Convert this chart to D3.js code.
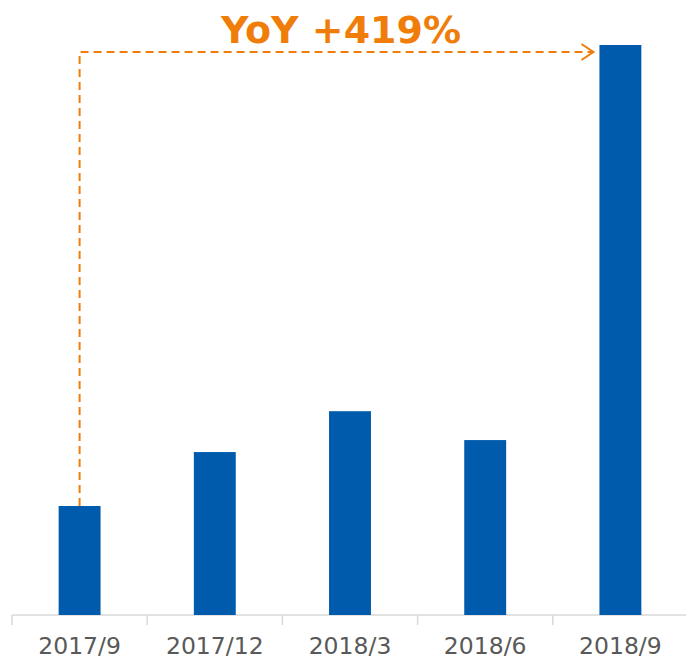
<!DOCTYPE html>
<html>
<head>
<meta charset="utf-8">
<script src="https://cdn.jsdelivr.net/npm/d3@7"></script>
<style>
  body { margin: 0; background: #fff; }
</style>
</head>
<body>
<div id="container"></div>
<script>
var categories = ["2017/9", "2017/12", "2018/3", "2018/6", "2018/9"];
var values = [100, 149.5, 187, 160.5, 523];
var growthLabel = "YoY +419%";

var width = 686, height = 660;
var svg = d3.select("#container").append("svg")
  .attr("width", width)
  .attr("height", height);

var x = d3.scaleBand().domain(categories).range([12, 688]).paddingInner(0.69).paddingOuter(0.345);
var y = d3.scaleLinear().domain([0, d3.max(values)]).range([615, 45]);

// x axis
var axis = svg.append("g")
  .attr("transform", "translate(0,615)");
axis.append("line")
  .attr("x1", 12).attr("x2", 688)
  .attr("stroke", "#d9d9d9").attr("stroke-width", 1.5);
var step = x.step();
axis.selectAll("line.tick").data(categories).enter().append("line")
  .attr("class", "tick")
  .attr("x1", function(d, i) { return 12 + i * step; })
  .attr("x2", function(d, i) { return 12 + i * step; })
  .attr("y1", 0).attr("y2", 10)
  .attr("stroke", "#d9d9d9").attr("stroke-width", 1.5);
axis.selectAll("text").data(categories).enter().append("text")
  .attr("x", function(d) { return x(d) + x.bandwidth() / 2; })
  .attr("y", 39)
  .attr("text-anchor", "middle")
  .attr("font-family", "DejaVu Sans, Verdana, sans-serif")
  .attr("font-size", 23.5)
  .attr("fill", "#595959")
  .text(function(d) { return d; });

// bars
svg.selectAll("rect.bar").data(values).enter().append("rect")
  .attr("class", "bar")
  .attr("x", function(d, i) { return x(categories[i]); })
  .attr("y", function(d) { return y(d); })
  .attr("width", x.bandwidth())
  .attr("height", function(d) { return y(0) - y(d); })
  .attr("fill", "#005bac");

// dashed growth arrow
var orange = "#f07d0a";
var x0 = x(categories[0]) + x.bandwidth() / 2;
var xEnd = x(categories[4]) - 6;
var yLine = 52;
svg.append("path")
  .attr("d", "M" + x0 + "," + y(values[0]) + " V" + yLine + " H" + xEnd)
  .attr("fill", "none")
  .attr("stroke", orange)
  .attr("stroke-width", 2)
  .attr("stroke-dasharray", "8,5");
svg.append("path")
  .attr("d", "M" + (xEnd - 12) + "," + (yLine - 8) + " L" + xEnd + "," + yLine + " L" + (xEnd - 12) + "," + (yLine + 8))
  .attr("fill", "none")
  .attr("stroke", orange)
  .attr("stroke-width", 2);

svg.append("text")
  .attr("x", 341)
  .attr("y", 43)
  .attr("text-anchor", "middle")
  .attr("font-family", "DejaVu Sans, Verdana, sans-serif")
  .attr("font-weight", "bold")
  .attr("font-size", 38)
  .attr("fill", orange)
  .text(growthLabel);
</script>
</body>
</html>
